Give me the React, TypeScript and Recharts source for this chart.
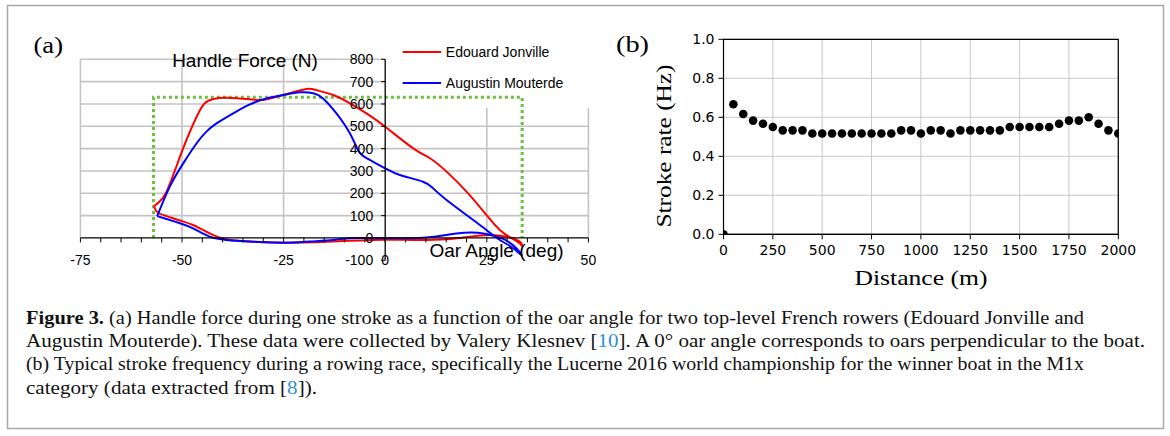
import React from 'react';
import {
  ComposedChart,
  Line,
  XAxis,
  YAxis,
  ReferenceLine,
  ScatterChart,
  Scatter,
  CartesianGrid,
  ReferenceArea,
} from 'recharts';

// ---------- Panel (a) data ----------
const angleTicks = [-75, -50, -25, 0, 25, 50];
const forceTicks = [-100, 0, 100, 200, 300, 400, 500, 600, 700, 800];
const minorAngleTicks = [-75, -70, -65, -60, -55, -50, -45, -40, -35, -30, -25, -20, -15, -10, -5, 0, 5, 10, 15, 20, 25, 30, 35, 40, 45, 50];
const gridForce = [100, 200, 300, 400, 500, 600, 700, 800];
const gridAngle = [-75, -50, -25, 25, 50];

const jonvilleAngle = [
  -56.7, -55.5, -53.8, -51.4, -48.9, -46.4, -44.4, -42.3, -39.1, -33.3, -30, -26.7, -23.5, -19.4, -16.9, -12.8, -8.7, -4.6, 0, 6.9, 11, 15.1, 20.4, 24.9, 28.2, 31.1, 33.1, 33.6,
  33.1, 29.8, 25.7, 20.8, 15.1, 6.9, 0, -8.7, -16.9, -25.1, -33.3, -39.1, -43.2, -47.3, -50.5, -53.8, -55.9, -56.7, -56.7,
];
const jonvilleForce = [
  145, 163, 207, 319, 439, 543, 603, 622, 628, 621, 618, 632, 648, 667, 662, 640, 603, 558, 498, 401, 357, 297, 200, 103, 36, -1, -24, -35,
  -16, 6, 13, 6, -6, -9, -8, -13, -19, -21, -16, -6, 21, 58, 78, 98, 113, 133, 145,
];
const mouterdeAngle = [
  -56.1, -53, -49.7, -46.4, -44, -41.5, -37.4, -33.3, -29.2, -25.1, -21, -17.7, -15.3, -12, -8.7, -6.7, -4.6, 0, 3.6, 9.3, 11.8, 15.1, 20, 24.9, 28.2, 31.5, 33.6,
  32.2, 29.5, 27.6, 24.5, 21, 17.5, 15, 9.3, 0, -8.7, -12.8, -18.6, -25.1, -33.3, -39.1, -43.2, -47.3, -50.5, -53.8, -56.1,
];
const mouterdeForce = [
  98, 230, 334, 424, 476, 513, 558, 598, 625, 640, 652, 648, 625, 558, 469, 394, 357, 312, 282, 252, 222, 170, 103, 36, -9, -46, -78,
  -45, -8, 5, 19, 25, 20, 13, 1, -1, -1, -9, -16, -21, -16, -9, 6, 43, 66, 85, 98,
];
const boxAngle = [-57, -57, 33.7, 33.7];
const boxForce = [0, 630, 630, 0];

const seriesNames = ['Edouard Jonville', 'Augustin Mouterde'];
const seriesColors = ['#ff0000', '#0000ff'];

// ---------- Panel (b) data ----------
const distance = [
  0, 50, 100, 150, 200, 250, 300, 350, 400, 450, 500, 550, 600, 650, 700, 750, 800, 850, 900, 950, 1000,
  1050, 1100, 1150, 1200, 1250, 1300, 1350, 1400, 1450, 1500, 1550, 1600, 1650, 1700, 1750, 1800, 1850, 1900, 1950, 2000,
];
const strokeRate = [
  0, 0.667, 0.617, 0.583, 0.567, 0.55, 0.533, 0.533, 0.533, 0.517, 0.517, 0.517, 0.517, 0.517, 0.517, 0.517, 0.517, 0.517, 0.533, 0.533, 0.517,
  0.533, 0.533, 0.517, 0.533, 0.533, 0.533, 0.533, 0.533, 0.55, 0.55, 0.55, 0.55, 0.55, 0.567, 0.583, 0.583, 0.6, 0.567, 0.533, 0.517,
];
const distanceTicks = [0, 250, 500, 750, 1000, 1250, 1500, 1750, 2000];
const rateTicks = [0, 0.2, 0.4, 0.6, 0.8, 1.0];

const zip = (xs: number[], ys: number[]) => xs.map((x, i) => ({ x, y: ys[i] }));
const jonvilleData = zip(jonvilleAngle, jonvilleForce);
const mouterdeData = zip(mouterdeAngle, mouterdeForce);
const boxData = zip(boxAngle, boxForce);
const rateData = distance.map((d, i) => ({ d, r: strokeRate[i] }));

// ---------- Layout ----------
const A_W = 600;
const A_H = 290;
const A_MARGIN = { top: 59.3, right: 11.6, bottom: 28.7, left: 79.4 };
const A_XDOM: [number, number] = [-75, 50];
const A_YDOM: [number, number] = [-100, 800];
const aPlotW = A_W - A_MARGIN.left - 1 - A_MARGIN.right;
const zeroXOffset = (aPlotW * (0 - A_XDOM[0])) / (A_XDOM[1] - A_XDOM[0]);
const legendBoxBottom = 583;

const SANS = 'Liberation Sans, Arial, sans-serif';
const SERIF = 'Liberation Serif, Times New Roman, serif';
const DJV = 'DejaVu Sans, sans-serif';

const XTickA = (props: any) => (
  <text x={props.x} y={props.y} textAnchor="middle" dy="0.35em" fontFamily={SANS} fontSize={14} fill="#000">
    {props.payload.value}
  </text>
);
const YTickA = (props: any) => (
  <text x={props.x + zeroXOffset - 12} y={props.y} textAnchor="end" dy="0.35em" fontFamily={SANS} fontSize={14} fill="#000">
    {props.payload.value}
  </text>
);

const dotShape = (props: any) => <circle cx={props.cx} cy={props.cy} r={4.3} fill="#000" />;

function PanelA() {
  return (
    <ComposedChart width={A_W} height={A_H} margin={A_MARGIN}>
      <XAxis
        type="number"
        dataKey="x"
        domain={A_XDOM}
        ticks={angleTicks}
        interval={0}
        height={1}
        axisLine={false}
        tickLine={false}
        tickSize={0}
        tickMargin={0}
        tick={XTickA}
        allowDataOverflow
      />
      <YAxis
        type="number"
        dataKey="y"
        domain={A_YDOM}
        ticks={forceTicks}
        interval={0}
        width={1}
        axisLine={false}
        tickLine={false}
        tickSize={0}
        tickMargin={0}
        tick={YTickA}
        allowDataOverflow
      />
      {gridForce.map((v) => (
        <ReferenceLine
          key={'gh' + v}
          segment={[{ x: A_XDOM[0], y: v }, { x: v > legendBoxBottom ? 0 : A_XDOM[1], y: v }]}
          stroke="#c4c4c4"
          strokeWidth={1.6}
        />
      ))}
      {gridAngle.map((v) => (
        <ReferenceLine
          key={'gv' + v}
          segment={[{ x: v, y: 0 }, { x: v, y: v > 0 ? legendBoxBottom : A_YDOM[1] }]}
          stroke="#c4c4c4"
          strokeWidth={1.6}
        />
      ))}
      <Line
        data={boxData}
        dataKey="y"
        type="linear"
        stroke="#6cbf3c"
        strokeWidth={3}
        strokeDasharray="3 3"
        dot={false}
        isAnimationActive={false}
      />
      <Line
        data={jonvilleData}
        dataKey="y"
        name={seriesNames[0]}
        type="natural"
        stroke={seriesColors[0]}
        strokeWidth={2}
        dot={false}
        isAnimationActive={false}
      />
      <Line
        data={mouterdeData}
        dataKey="y"
        name={seriesNames[1]}
        type="natural"
        stroke={seriesColors[1]}
        strokeWidth={2}
        dot={false}
        isAnimationActive={false}
      />
      <ReferenceLine x={0} stroke="#000" strokeWidth={1.3} />
      <ReferenceLine y={0} stroke="#000" strokeWidth={1.3} />
      {minorAngleTicks.map((t) => (
        <ReferenceLine key={'mt' + t} segment={[{ x: t, y: 0 }, { x: t, y: -20 }]} stroke="#000" strokeWidth={1} />
      ))}
      {forceTicks.map((t) => (
        <ReferenceLine key={'yt' + t} segment={[{ x: 0, y: t }, { x: -1, y: t }]} stroke="#000" strokeWidth={1} />
      ))}
    </ComposedChart>
  );
}

function PanelB() {
  return (
    <ScatterChart width={570} height={290} margin={{ top: 39.3, right: 51.7, bottom: 25.7, left: 63.5 }}>
      <CartesianGrid stroke="#c8c8c8" strokeWidth={1} />
      <XAxis
        type="number"
        dataKey="d"
        domain={[0, 2000]}
        ticks={distanceTicks}
        interval={0}
        allowDataOverflow
        height={30}
        tickSize={5}
        tickMargin={6}
        stroke="#000"
        tick={{ fill: '#000', fontSize: 14, fontFamily: DJV }}
      />
      <YAxis
        type="number"
        dataKey="r"
        domain={[0, 1]}
        ticks={rateTicks}
        interval={0}
        allowDataOverflow
        width={60}
        tickSize={5}
        tickMargin={4}
        stroke="#000"
        tickFormatter={(v: number) => v.toFixed(1)}
        tick={{ fill: '#000', fontSize: 14, fontFamily: DJV }}
      />
      <ReferenceArea x1={0} x2={2000} y1={0} y2={1} fill="none" stroke="#000" strokeWidth={1.2} ifOverflow="visible" />
      <Scatter data={rateData} shape={dotShape} fill="#000" isAnimationActive={false} />
    </ScatterChart>
  );
}

function Overlay() {
  const capX = 26;
  return (
    <svg width={1170} height={436} style={{ position: 'absolute', left: 0, top: 0, pointerEvents: 'none' }}>
      <rect x={7.5} y={5.5} width={1156} height={423} fill="none" stroke="#a8a8a8" strokeWidth={1.5} />
      {/* panel labels */}
      <text x={33.5} y={53} fontFamily={SERIF} fontSize={24} textLength={29.5} lengthAdjust="spacingAndGlyphs">(a)</text>
      <text x={616} y={52} fontFamily={SERIF} fontSize={24} textLength={33} lengthAdjust="spacingAndGlyphs">(b)</text>
      {/* panel (a) axis titles */}
      <text x={245} y={60} textAnchor="middle" dominantBaseline="central" fontFamily={SANS} fontSize={19}>Handle Force (N)</text>
      <text x={496.5} y={250} textAnchor="middle" dominantBaseline="central" fontFamily={SANS} fontSize={19}>Oar Angle (deg)</text>
      {/* panel (a) legend */}
      {seriesNames.map((n, i) => (
        <g key={n}>
          <line x1={402.6} x2={441} y1={52 + i * 31} y2={52 + i * 31} stroke={seriesColors[i]} strokeWidth={2} />
          <text x={445.8} y={52 + i * 31} dominantBaseline="central" fontFamily={SANS} fontSize={14}>{n}</text>
        </g>
      ))}
      {/* panel (b) axis labels */}
      <text
        x={663}
        y={146}
        transform="rotate(-90 663 146)"
        textAnchor="middle"
        dominantBaseline="central"
        fontFamily={SERIF}
        fontSize={22}
        textLength={163}
        lengthAdjust="spacingAndGlyphs"
      >
        Stroke rate (Hz)
      </text>
      <text
        x={921}
        y={277}
        textAnchor="middle"
        dominantBaseline="central"
        fontFamily={SERIF}
        fontSize={22}
        textLength={133}
        lengthAdjust="spacingAndGlyphs"
      >
        Distance (m)
      </text>
      {/* caption */}
      <g fontFamily={SERIF} fontSize={19.5} fill="#111">
        <text x={capX} y={324} textLength={1084 - capX} lengthAdjust="spacingAndGlyphs">
          <tspan fontWeight="bold">Figure 3.</tspan> (a) Handle force during one stroke as a function of the oar angle for two top-level French rowers (Edouard Jonville and
        </text>
        <text x={capX} y={347} textLength={1145 - capX} lengthAdjust="spacingAndGlyphs">
          Augustin Mouterde). These data were collected by Valery Klesnev [<tspan fill="#2f8fc9">10</tspan>]. A 0° oar angle corresponds to oars perpendicular to the boat.
        </text>
        <text x={capX} y={370} textLength={1084 - capX} lengthAdjust="spacingAndGlyphs">
          (b) Typical stroke frequency during a rowing race, specifically the Lucerne 2016 world championship for the winner boat in the M1x
        </text>
        <text x={capX} y={394} textLength={317 - capX} lengthAdjust="spacingAndGlyphs">
          category (data extracted from [<tspan fill="#2f8fc9">8</tspan>]).
        </text>
      </g>
    </svg>
  );
}

export default function App() {
  return (
    <div style={{ position: 'absolute', left: 0, top: 0, width: 1170, height: 436, background: '#fff', overflow: 'hidden' }}>
      <div style={{ position: 'absolute', left: 0, top: 0 }}>
        <PanelA />
      </div>
      <div style={{ position: 'absolute', left: 600, top: 0 }}>
        <PanelB />
      </div>
      <Overlay />
    </div>
  );
}
